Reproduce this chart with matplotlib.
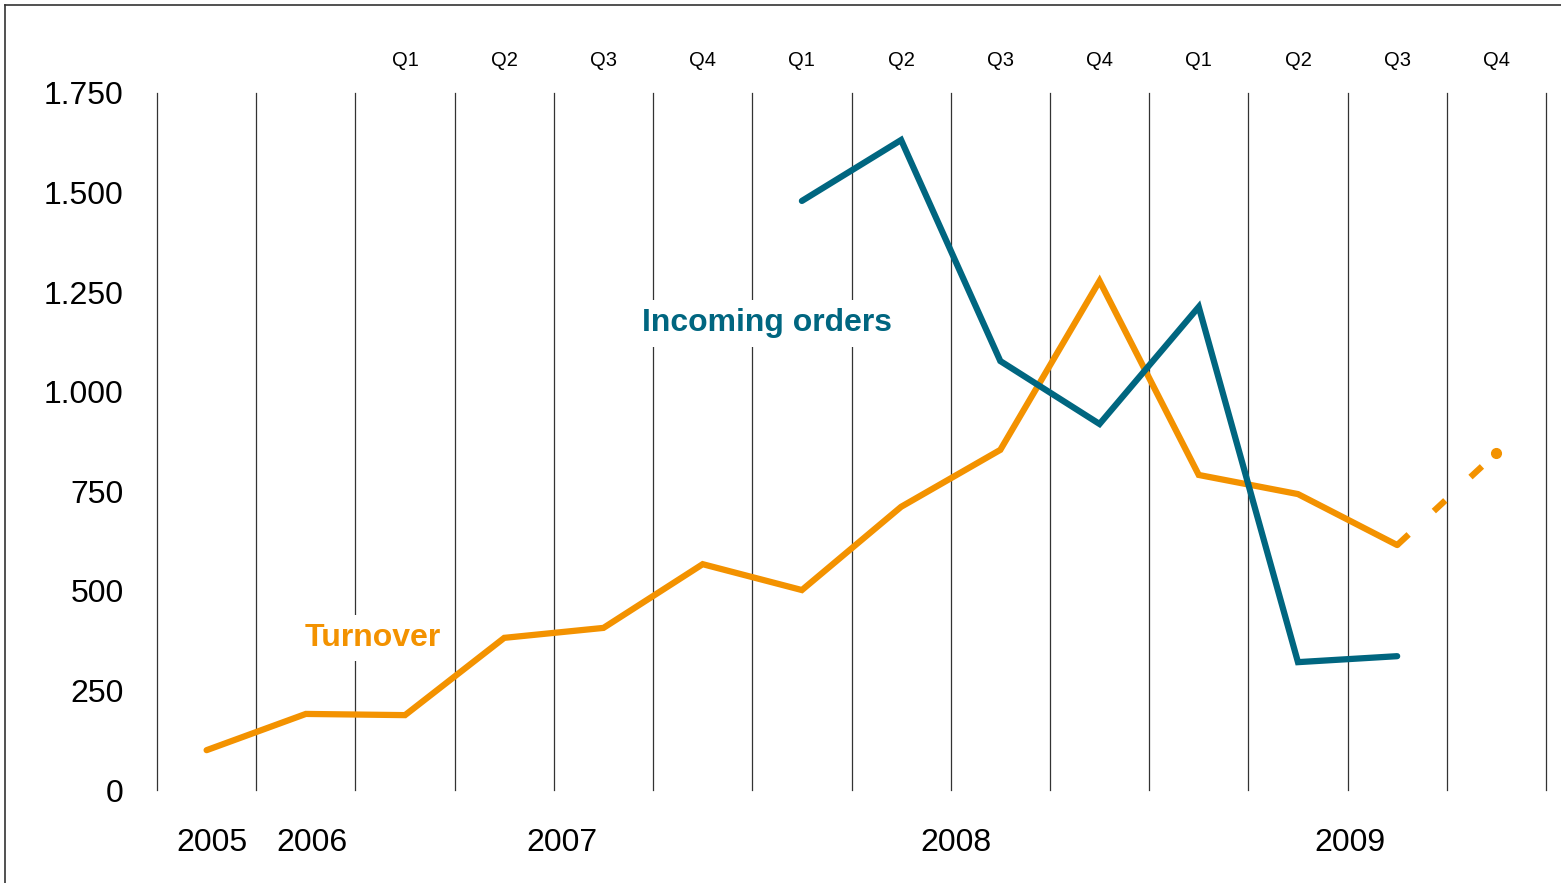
import matplotlib
matplotlib.use("Agg")
import matplotlib.pyplot as plt
from matplotlib.lines import Line2D

plt.rcParams['font.family'] = ['Liberation Sans', 'DejaVu Sans']

# Datos (posiciones: 2005, 2006, Q1-2007 ... Q4-2009)
quarters = ['Q1', 'Q2', 'Q3', 'Q4'] * 3
turnover = [100, 191, 188, 382, 407, 567, 502, 711, 854, 1278, 791, 743, 615]
turnover_forecast = [615, 846]
orders = [1479, 1632, 1077, 919, 1213, 321, 336]
years = ['2005', '2006', '2007', '2008', '2009']
year_pos = [0.05, 1.06, 3.58, 7.55, 11.52]
yticks = [0, 250, 500, 750, 1000, 1250, 1500, 1750]

ORANGE = '#F39200'
TEAL = '#006680'

fig = plt.figure(figsize=(15.61, 8.83), dpi=100)
ax = fig.add_axes([157/1561, 93/883, (1546-157)/1561, (790-93)/883])

x_turn = list(range(len(turnover)))
x_orders = list(range(6, 6 + len(orders)))
x_fc = [12, 13]

# lineas verticales de la cuadricula
for i in range(15):
    ax.axvline(i - 0.5, color='#333333', lw=0.9, zorder=1, clip_on=False)

ax.plot(x_turn, turnover, color=ORANGE, lw=4.5, solid_capstyle='round',
        solid_joinstyle='miter', zorder=3)
ax.plot(x_fc, turnover_forecast, color=ORANGE, lw=4.5, dashes=(2.5, 5.5),
        dash_capstyle='butt', zorder=3)
ax.plot([x_fc[-1]], [turnover_forecast[-1]], 'o', color=ORANGE, ms=7, zorder=3)
ax.plot(x_orders, orders, color=TEAL, lw=4.5, solid_capstyle='round',
        solid_joinstyle='miter', zorder=4)

ax.set_xlim(-0.5, 13.5)
ax.set_ylim(0, 1750)
ax.set_yticks(yticks)
ax.set_yticklabels([f'{v:,}'.replace(',', '.') for v in yticks], fontsize=23)
ax.tick_params(axis='y', length=0, pad=24)
ax.set_xticks([])
for s in ax.spines.values():
    s.set_visible(False)

# etiquetas de trimestres arriba
for i, q in enumerate(quarters):
    ax.text(2 + i, 1.0 + 32/697, q, transform=ax.get_xaxis_transform(),
            ha='center', va='center', fontsize=14.5)

# etiquetas de años abajo
for p, y in zip(year_pos, years):
    ax.text(p, -53/697, y, transform=ax.get_xaxis_transform(),
            ha='center', va='center', fontsize=23)

ax.text(5.65, 1172, 'Incoming orders', color=TEAL, fontsize=23,
        fontweight='bold', ha='center', va='center', zorder=5,
        bbox=dict(facecolor='white', edgecolor='none', pad=6))
ax.text(1.67, 382, 'Turnover', color=ORANGE, fontsize=23,
        fontweight='bold', ha='center', va='center', zorder=5,
        bbox=dict(facecolor='white', edgecolor='none', pad=6))

# marco de la figura
fig.add_artist(Line2D([5/1561, 5/1561], [0, 1 - 5/883], color='#333333', lw=1.2))
fig.add_artist(Line2D([5/1561, 1], [1 - 5/883, 1 - 5/883], color='#333333', lw=1.2))

fig.savefig('out.png', dpi=100, facecolor='white')
